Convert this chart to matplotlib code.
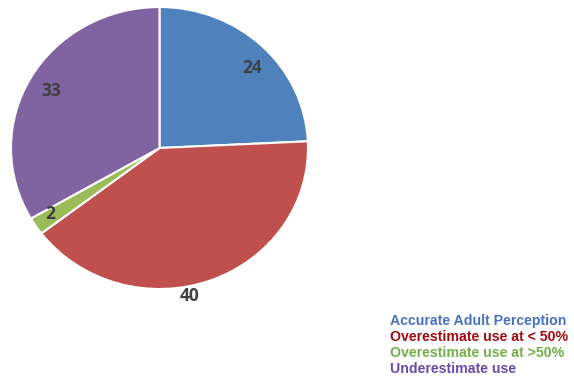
import matplotlib
matplotlib.use("Agg")
import matplotlib.pyplot as plt
import numpy as np

categories = ["Accurate Adult Perception", "Overestimate use at < 50%",
              "Overestimate use at >50%", "Underestimate use"]
values = [24, 40, 2, 33]
wedge_colors = ["#4F81BD", "#C0504D", "#9BBB59", "#8064A2"]
legend_colors = ["#4A72C2", "#A00C14", "#74AE4A", "#6A4BA6"]
label_radius = [0.84, 1.07, 0.87, 0.83]
label_dtheta = [-4, -9, -1, 1]

fig = plt.figure(figsize=(5.74, 3.79), dpi=100)
W, H = 574, 379
ax = fig.add_axes([11 / W, 1 - 289 / H, 297 / W, 282 / H])
wedges, _ = ax.pie(values, colors=wedge_colors, startangle=90, counterclock=False,
                   wedgeprops=dict(edgecolor="white", linewidth=1.5))
ax.set_aspect("auto")
ax.set_xlim(-1, 1)
ax.set_ylim(-1, 1)

for w, v, r, dt in zip(wedges, values, label_radius, label_dtheta):
    ang = np.deg2rad((w.theta1 + w.theta2) / 2 + dt)
    ax.text(r * np.cos(ang), r * np.sin(ang), str(v), ha="center", va="center",
            fontsize=12.5, fontweight="bold", color="#404040", family="Open Sans",
            clip_on=False)

ys = [321, 337, 353, 369]
for cat, col, y in zip(categories, legend_colors, ys):
    fig.text(390 / W, 1 - y / H, cat, color=col, fontsize=10.2, fontweight="bold",
             family="Liberation Sans", ha="left", va="center")

fig.savefig("out.png", dpi=100, facecolor="white")
